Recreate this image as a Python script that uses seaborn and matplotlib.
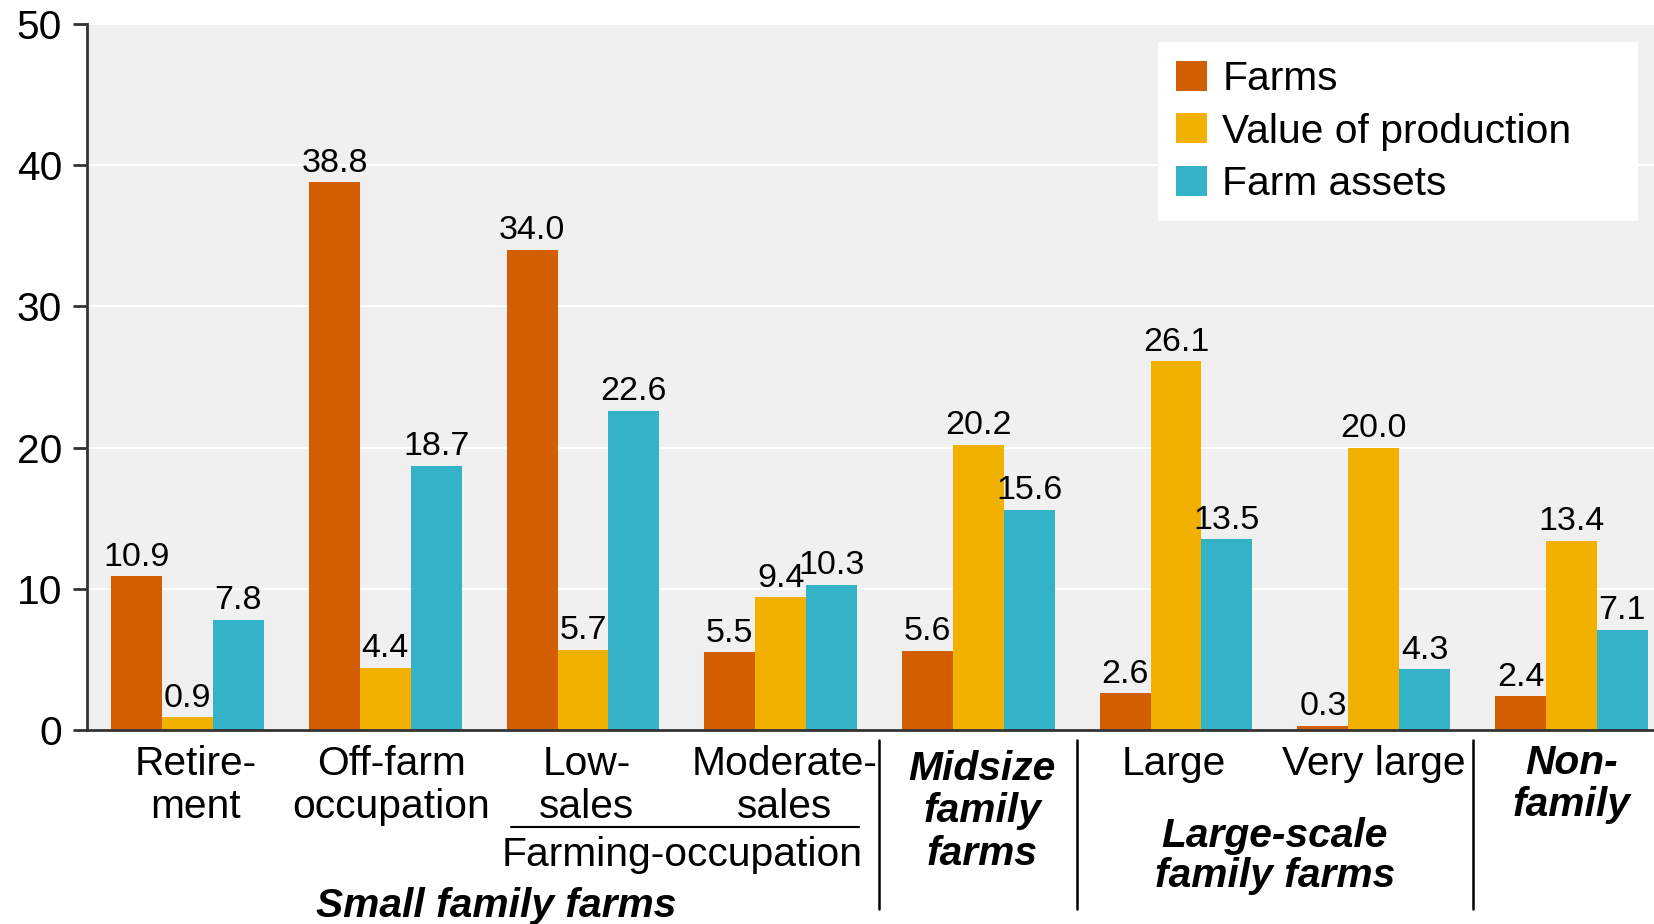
import pandas as pd
import matplotlib
matplotlib.use("Agg")
import matplotlib.pyplot as plt
import matplotlib.transforms as mtransforms
import seaborn as sns

# Data (percent shares by farm type)
categories = ["Retirement", "Off-farm occupation", "Low-sales", "Moderate-sales",
              "Midsize", "Large", "Very large", "Nonfamily"]
series = ["Farms", "Value of production", "Farm assets"]
farms = [10.9, 38.8, 34.0, 5.5, 5.6, 2.6, 0.3, 2.4]
value_prod = [0.9, 4.4, 5.7, 9.4, 20.2, 26.1, 20.0, 13.4]
assets = [7.8, 18.7, 22.6, 10.3, 15.6, 13.5, 4.3, 7.1]
colors = ["#D45F00", "#F2B000", "#33B2C8"]
yticks = [0, 10, 20, 30, 40, 50]

df = pd.DataFrame({
    "category": categories * 3,
    "series": [series[0]] * 8 + [series[1]] * 8 + [series[2]] * 8,
    "share": farms + value_prod + assets,
})

sns.set_style("white")
plt.rcParams["font.family"] = ["Liberation Sans", "DejaVu Sans"]
plt.rcParams["text.color"] = "black"
plt.rcParams["ytick.labelcolor"] = "black"

FS = 29.3
W, H = 1654, 924
fig = plt.figure(figsize=(W / 100, H / 100), dpi=100)
ax = fig.add_axes([87 / W, (H - 730) / H, (W - 87) / W, (730 - 24) / H])
ax.set_facecolor("#F0F0F0")

sns.barplot(data=df, x="category", y="share", hue="series", order=categories,
            hue_order=series, palette=colors, width=0.771, saturation=1,
            errorbar=None, linewidth=0, edgecolor="none", ax=ax)

for cont in ax.containers:
    ax.bar_label(cont, fmt="%.1f", padding=2.5, fontsize=24.5, color="black")

ax.set_ylim(0, 50)
ax.set_xlim(-0.509, 7.418)
ax.set_yticks(yticks)
ax.set_yticklabels([str(t) for t in yticks], fontsize=FS, color="black")
ax.set_xticks([])
ax.set_xlabel("")
ax.set_ylabel("")
ax.yaxis.grid(True, color="white", linewidth=1.5)
ax.set_axisbelow(True)
ax.tick_params(axis="y", direction="out", length=10, width=2, color="#333333",
               pad=8, left=True)
for side in ["top", "right"]:
    ax.spines[side].set_visible(False)
for side in ["left", "bottom"]:
    ax.spines[side].set_color("#333333")
    ax.spines[side].set_linewidth(2)

# legend
handles, labels = ax.get_legend_handles_labels()
ax.get_legend().remove()
leg = ax.legend(handles, labels, loc="upper left",
                bbox_to_anchor=(0.6835, 0.0, 0.3063, 0.9745), mode="expand",
                borderaxespad=0, fontsize=FS, frameon=True, fancybox=False,
                facecolor="white", edgecolor="none", framealpha=1,
                handlelength=0.76, handleheight=0.75, handletextpad=0.37,
                labelspacing=0.35, borderpad=0.45)

# category labels under the axis
trans = mtransforms.blended_transform_factory(ax.transData, fig.transFigure)


def put(x, base_px, s, bold=False):
    kw = dict(fontweight="bold", fontstyle="italic") if bold else {}
    ax.text(x, 1 - base_px / H, s, transform=trans, ha="center", va="baseline",
            fontsize=FS, color="black", clip_on=False, **kw)


put(0.04, 775, "Retire-")
put(0.04, 818, "ment")
put(1.03, 775, "Off-farm")
put(1.03, 818, "occupation")
put(2.02, 775, "Low-")
put(2.02, 818, "sales")
put(3.02, 775, "Moderate-")
put(3.02, 818, "sales")
put(2.5, 866, "Farming-occupation")
put(1.56, 917, "Small family farms", bold=True)
put(4.02, 780, "Midsize", bold=True)
put(4.02, 822, "family", bold=True)
put(4.02, 865, "farms", bold=True)
put(4.99, 775, "Large")
put(6, 775, "Very large")
put(5.5, 847, "Large-scale", bold=True)
put(5.5, 887, "family farms", bold=True)
put(7, 774, "Non-", bold=True)
put(7, 816, "family", bold=True)

# separators and bracket line
for xs in [3.5, 4.5, 6.5]:
    ax.plot([xs, xs], [1 - 740 / H, 1 - 909 / H], transform=trans,
            color="black", linewidth=1.8, clip_on=False)
ax.plot([1.636, 3.396], [1 - 827 / H, 1 - 827 / H], transform=trans,
        color="black", linewidth=1.5, clip_on=False)

fig.savefig("out.png", dpi=100)
